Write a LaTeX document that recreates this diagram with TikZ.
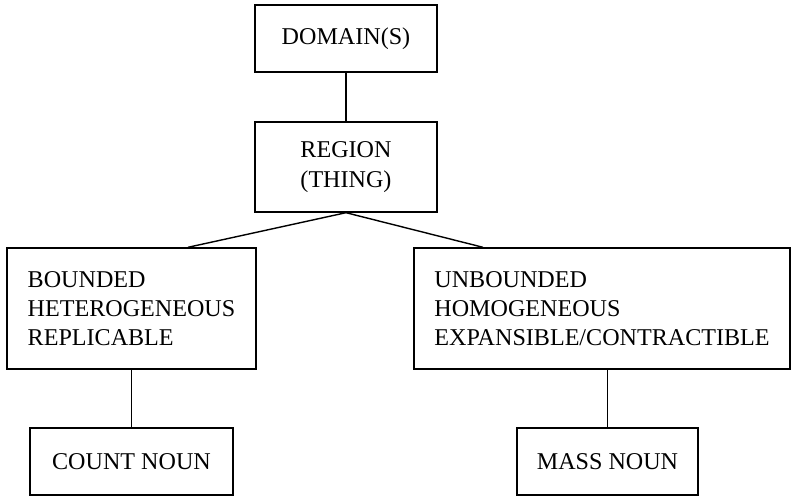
\documentclass[tikz,border=0pt]{standalone}
\usepackage{fontspec}
\setmainfont{Liberation Serif}
\begin{document}
\begin{tikzpicture}[x=1pt,y=-1pt,
  box/.style={draw, line width=1.4pt, inner sep=0pt, align=center,
    font=\fontsize{24.1}{29.2}\selectfont},
  lbox/.style={box, align=left},
  conn/.style={line width=1.4pt}]
\useasboundingbox (0,0) rectangle (792,497);
\node[box, minimum width=182pt, minimum height=67pt] (dom) at (346,38.5) {DOMAIN(S)};
\node[box, minimum width=182pt, minimum height=90pt] (reg) at (346,167) {REGION\\(THING)};
\node[lbox, minimum width=249pt, minimum height=121pt] (lft) at (131.5,308.5) {BOUNDED\\HETEROGENEOUS\\REPLICABLE};
\node[lbox, minimum width=376pt, minimum height=121pt] (rgt) at (602,308.5) {UNBOUNDED\\HOMOGENEOUS\\EXPANSIBLE/CONTRACTIBLE};
\node[box, minimum width=203pt, minimum height=67pt] (cnt) at (131.5,461.5) {COUNT NOUN};
\node[box, minimum width=181pt, minimum height=67pt] (mss) at (607.5,461.5) {MASS NOUN};
\draw[conn] (dom.south) -- (reg.north);
\draw[conn] (reg.south) -- ([xshift=56.5pt]lft.north);
\draw[conn] (reg.south) -- ([xshift=-119pt]rgt.north);
\draw[conn] (lft.south) -- (cnt.north);
\draw[conn] (mss.north) -- (mss.north |- rgt.south);
\end{tikzpicture}
\end{document}
